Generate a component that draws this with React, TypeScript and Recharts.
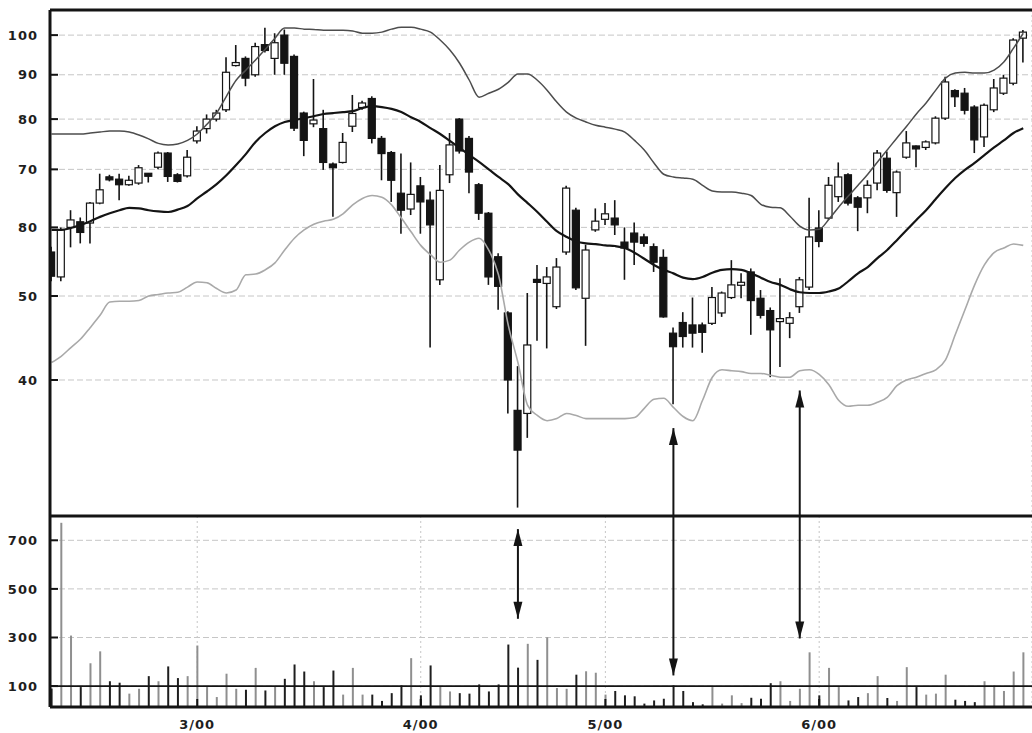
import React from "react";
import {
  ComposedChart,
  Bar,
  Line,
  XAxis,
  YAxis,
  CartesianGrid,
  ReferenceLine,
  Cell,
} from "recharts";

// trading days, 0 = early Feb 2000 ... 100 = end of June 2000
const monthTicks = [15, 38, 57, 79];
const monthLabels = ["3/00", "4/00", "5/00", "6/00"];

const priceTicks = [40, 50, 60, 70, 80, 90, 100];
const priceTickLabels = ["40", "50", "80", "70", "80", "90", "100"];
const volumeTicks = [100, 300, 500, 700];

const opens = [
  56.2, 52.6, 60.0, 60.9, 60.7, 64.0, 68.6, 68.2, 67.2, 67.5,
  69.2, 70.4, 73.1, 69.0, 68.8, 75.5, 78.0, 80.0, 82.0, 92.4,
  94.0, 90.0, 97.5, 94.0, 100.0, 94.5, 81.3, 79.0, 78.0, 71.0,
  71.3, 78.5, 82.5, 84.5, 76.0, 73.2, 65.7, 63.0, 67.0, 64.5,
  52.2, 69.0, 80.0, 76.0, 67.2, 62.3, 55.5, 47.8, 36.9, 36.6,
  52.2, 51.7, 48.6, 56.2, 62.8, 49.7, 59.6, 61.3, 61.5, 57.7,
  59.1, 58.5, 57.0, 55.4, 45.3, 46.6, 46.3, 46.3, 46.5, 47.8,
  49.8, 51.5, 53.3, 49.7, 48.1, 46.8, 46.5, 48.6, 51.2, 59.9,
  61.5, 65.1, 69.0, 64.9, 64.9, 67.5, 72.1, 65.8, 72.3, 74.4,
  74.2, 75.1, 80.2, 86.3, 85.7, 82.6, 76.3, 82.0, 85.7, 88.0,
  99.2,
];
const highs = [
  57.0, 60.0, 62.8, 61.6, 64.2, 69.2, 69.0, 69.2, 68.8, 70.8,
  69.3, 73.4, 73.3, 69.3, 73.7, 78.5, 81.0, 82.0, 94.3, 97.4,
  94.5, 98.0, 102.0, 100.5, 101.5, 95.0, 81.6, 89.0, 82.0, 71.3,
  77.1, 85.3, 84.0, 85.0, 76.5, 73.5, 73.0, 71.3, 68.6, 66.0,
  70.8, 77.1, 80.2, 76.5, 67.5, 62.5, 56.0, 48.0, 41.5, 50.4,
  54.3, 54.0, 55.3, 67.0, 63.2, 57.3, 63.1, 64.0, 64.5, 60.0,
  60.8, 59.0, 57.5, 56.6, 46.0, 47.9, 49.8, 46.6, 51.2, 50.6,
  55.0, 53.1, 53.8, 50.8, 48.5, 52.4, 47.9, 52.6, 64.9, 62.8,
  68.6, 71.3, 69.3, 65.2, 68.0, 73.7, 73.4, 69.8, 77.5, 74.6,
  75.6, 80.6, 89.5, 86.6, 86.9, 83.0, 83.4, 89.0, 90.0, 99.2,
  101.4,
];
const lows = [
  52.0, 52.0, 56.9, 57.5, 57.5, 63.8, 67.8, 64.5, 67.0, 67.2,
  67.6, 70.0, 67.7, 67.6, 68.5, 75.0, 77.0, 79.5, 81.5, 92.0,
  87.3, 89.5, 95.5, 90.0, 90.0, 77.5, 72.5, 78.3, 69.9, 61.7,
  71.1, 77.3, 82.0, 75.0, 68.0, 64.2, 59.0, 62.0, 59.0, 43.6,
  51.5, 67.5, 73.0, 65.7, 61.2, 51.5, 48.2, 36.6, 28.5, 34.3,
  44.4, 43.5, 48.3, 55.8, 50.8, 43.8, 59.3, 60.4, 58.8, 52.2,
  54.3, 57.0, 53.3, 47.2, 37.5, 43.6, 43.6, 43.0, 46.3, 47.3,
  49.6, 49.7, 45.1, 47.1, 40.3, 41.4, 44.7, 47.8, 50.8, 56.9,
  61.2, 64.2, 63.6, 59.4, 62.3, 66.2, 65.8, 61.7, 72.0, 70.4,
  73.7, 74.8, 79.8, 82.6, 81.0, 73.1, 74.3, 81.5, 85.3, 87.5,
  93.0,
];
const closes = [
  52.7, 59.6, 61.2, 59.2, 64.0, 66.3, 68.1, 67.2, 68.0, 70.3,
  68.8, 73.1, 68.7, 67.8, 72.3, 77.5, 80.0, 81.3, 90.6, 92.8,
  89.2, 97.0, 96.0, 98.0, 92.8, 78.1, 75.6, 79.8, 71.3, 70.3,
  75.2, 81.2, 83.5, 76.0, 73.0, 68.0, 62.8, 65.5, 64.2, 60.4,
  66.2, 74.7, 73.5, 69.5, 62.3, 52.6, 51.3, 40.0, 33.2, 43.9,
  51.9, 52.6, 54.0, 66.6, 51.1, 56.5, 61.0, 62.2, 60.4, 56.8,
  57.7, 57.5, 54.7, 47.3, 43.7, 44.9, 45.3, 45.4, 49.8, 50.4,
  51.5, 51.8, 49.4, 47.5, 45.7, 47.0, 47.2, 52.2, 58.5, 57.8,
  67.1, 68.6, 64.0, 63.3, 67.1, 73.1, 66.2, 69.5, 75.1, 74.0,
  75.3, 80.2, 88.3, 84.9, 81.9, 75.7, 83.0, 86.9, 89.2, 98.7,
  100.8,
];

const upperBand = [
  76.9, 76.9, 76.9, 76.9, 77.1, 77.3, 77.5, 77.5, 77.3, 76.7,
  75.9, 75.0, 74.7, 74.9, 75.6, 76.9, 78.9, 81.3, 85.0, 88.7,
  91.1, 93.6, 96.3, 99.2, 101.9, 101.9, 101.6, 101.5, 101.3, 101.3,
  101.3, 101.1, 100.5, 100.5, 100.8, 101.6, 102.1, 102.1, 101.6, 100.8,
  98.7, 96.1, 92.8, 88.7, 84.8, 85.7, 86.6, 88.2, 90.2, 90.2,
  88.7, 86.4, 83.7, 81.5, 80.2, 79.4, 78.7, 78.3, 77.9, 77.3,
  75.6, 73.7, 71.2, 69.1, 68.6, 68.4, 68.2, 67.1, 66.1, 65.9,
  65.9, 65.7, 65.3, 63.8, 63.3, 63.2, 61.8, 60.2, 59.6, 59.7,
  61.3, 63.3, 65.2, 67.1, 69.1, 71.4, 73.7, 76.1, 78.5, 81.1,
  83.5, 86.4, 89.2, 90.4, 90.6, 90.4, 90.4, 91.1, 93.1, 96.6,
  100.5,
];
const middleBand = [
  59.6, 59.6, 59.9, 60.4, 61.0, 61.7, 62.3, 62.8, 63.2, 63.1,
  62.8, 62.6, 62.5, 62.9, 63.5, 64.8, 66.0, 67.3, 68.9, 70.8,
  72.9, 75.3, 77.1, 78.5, 79.4, 79.8, 80.2, 80.6, 81.1, 81.3,
  81.5, 81.7, 82.4, 82.8, 82.6, 82.2, 81.5, 80.4, 79.4, 78.1,
  76.9, 75.5, 74.1, 72.7, 71.4, 70.0, 68.6, 67.3, 65.5, 64.0,
  62.5, 60.9, 59.4, 58.5, 57.8, 57.5, 57.4, 57.2, 57.1, 56.8,
  56.1, 55.2, 54.3, 53.6, 53.1, 52.5, 52.3, 52.6, 53.2, 53.6,
  53.7, 53.6, 53.1, 52.5, 51.9, 51.5, 50.9, 50.5, 50.4, 50.4,
  50.6, 51.0, 52.0, 53.1, 54.0, 55.3, 56.5, 58.0, 59.6, 61.2,
  62.8, 64.7, 66.6, 68.4, 69.9, 71.2, 72.7, 74.2, 75.6, 77.1,
  78.1,
];
const lowerBand = [
  41.9, 42.6, 43.6, 44.6, 46.0, 47.5, 49.2, 49.3, 49.3, 49.4,
  50.0, 50.2, 50.4, 50.5, 51.2, 51.9, 51.8, 51.0, 50.4, 50.8,
  52.9, 53.0, 53.6, 54.6, 56.5, 58.3, 59.6, 60.5, 61.0, 61.3,
  62.2, 63.7, 64.8, 65.3, 65.0, 63.7, 61.5, 59.3, 57.2, 55.8,
  54.7, 55.0, 56.5, 57.7, 58.3, 56.5, 52.9, 46.3, 41.9, 37.4,
  36.4, 35.9, 36.1, 36.6, 36.4, 36.1, 36.1, 36.1, 36.1, 36.1,
  36.2, 37.1, 38.0, 38.1, 37.2, 36.3, 35.9, 37.9, 40.3, 41.1,
  41.0, 40.9, 40.7, 40.7, 40.5, 40.3, 40.3, 41.0, 41.1, 40.6,
  39.5, 37.9, 37.3, 37.4, 37.4, 37.7, 38.2, 39.4, 40.0, 40.3,
  40.7, 41.1, 42.2, 45.1, 48.2, 51.5, 54.3, 56.1, 56.8, 57.4,
  57.2,
];

const volumes = [
  90, 772, 308, 96, 194, 243, 120, 114, 69, 89,
  141, 120, 181, 133, 141, 267, 96, 55, 151, 89,
  85, 175, 82, 99, 130, 189, 160, 120, 96, 164,
  65, 175, 65, 65, 39, 71, 103, 215, 62, 185,
  100, 78, 71, 69, 107, 78, 107, 271, 176, 274,
  208, 301, 92, 89, 147, 161, 155, 65, 80, 62,
  58, 28, 41, 48, 103, 80, 34, 25, 96, 28,
  62, 30, 52, 48, 112, 120, 39, 89, 239, 62,
  175, 96, 41, 55, 71, 141, 51, 39, 178, 96,
  65, 69, 147, 44, 39, 34, 120, 103, 80, 160,
  239,
];

// arrows marking the lows against volume
const priceArrowDays = [64, 77];
const priceArrowTips = [35.2, 38.9];
const volArrowDays = [48, 64, 77];
const volArrowFrom = [746, 800, 800];
const volArrowTo = [377, 144, 296];
const volArrowBoth = [true, false, false];

const DAY_DOMAIN: [number, number] = [-0.15, 100.9];
const PRICE_DOMAIN: [number, number] = [27.87, 106.9];
const VOL_DOMAIN: [number, number] = [14, 800];

const rows = opens.map((open, i) => ({
  i,
  open,
  high: highs[i],
  low: lows[i],
  close: closes[i],
  range: [lows[i], highs[i]],
  upper: upperBand[i],
  middle: middleBand[i],
  lower: lowerBand[i],
  vol: volumes[i],
}));

const INK = "#141414";
const GRID = "#c6c6c6";
const tickFont = {
  fontSize: 13,
  fontFamily: "DejaVu Sans, Arial, sans-serif",
  fontWeight: 700,
  fill: "#1e1e1e",
  letterSpacing: 1,
};

function Candle(props: any) {
  const { x, y, width, height, payload } = props;
  if (!payload || x == null || y == null) return null;
  const top = Math.min(y, y + height);
  const h = Math.abs(height);
  const lh = Math.log(payload.high);
  const span = lh - Math.log(payload.low) || 1;
  const yOf = (v: number) => top + ((lh - Math.log(v)) / span) * h;
  const cx = x + width / 2;
  const yo = yOf(payload.open);
  const yc = yOf(payload.close);
  const down = payload.close < payload.open;
  const bh = Math.max(Math.abs(yo - yc), 3);
  const bt = Math.min(yo, yc) - (bh - Math.abs(yo - yc)) / 2;
  return (
    <g>
      <line x1={cx} x2={cx} y1={top} y2={top + h} stroke={INK} strokeWidth={1.6} />
      <rect
        x={cx - width / 2}
        y={bt}
        width={width}
        height={bh}
        fill={down ? INK : "#fff"}
        stroke={INK}
        strokeWidth={1.2}
      />
    </g>
  );
}

function headPoints(tx: number, ty: number, fx: number, fy: number) {
  const len = 17;
  const half = 4.5;
  const dx = tx - fx;
  const dy = ty - fy;
  const d = Math.hypot(dx, dy) || 1;
  const ux = dx / d;
  const uy = dy / d;
  const bx = tx - ux * len;
  const by = ty - uy * len;
  return `${tx},${ty} ${bx - uy * half},${by + ux * half} ${bx + uy * half},${by - ux * half}`;
}

const makeArrow = (startHead: boolean, endHead: boolean) => (p: any) => {
  const { x1, y1, x2, y2 } = p;
  return (
    <g>
      <line x1={x1} y1={y1} x2={x2} y2={y2} stroke={INK} strokeWidth={2} />
      {startHead && <polygon points={headPoints(x1, y1, x2, y2)} fill={INK} />}
      {endHead && <polygon points={headPoints(x2, y2, x1, y1)} fill={INK} />}
    </g>
  );
};

const frameLine = { stroke: INK, strokeWidth: 3 };
const frameTick = { stroke: INK, strokeWidth: 2 };

export default function App() {
  return (
    <div
      style={{
        position: "absolute",
        left: 0,
        top: 0,
        width: 1032,
        height: 733,
        background: "#fff",
        overflow: "hidden",
      }}
    >
      <div style={{ position: "absolute", left: 0, top: 0 }}>
        <ComposedChart
          width={1032}
          height={517}
          data={rows}
          margin={{ top: 9, right: 0, bottom: 0, left: 0 }}
        >
          <XAxis
            xAxisId="t"
            dataKey="i"
            type="number"
            orientation="top"
            domain={DAY_DOMAIN}
            ticks={monthTicks}
            allowDataOverflow
            height={1}
            tick={false}
            tickSize={-10}
            axisLine={frameLine}
            tickLine={frameTick}
          />
          <XAxis
            xAxisId="b"
            dataKey="i"
            type="number"
            domain={DAY_DOMAIN}
            ticks={monthTicks}
            allowDataOverflow
            height={1}
            tick={false}
            tickSize={-10}
            axisLine={frameLine}
            tickLine={frameTick}
          />
          <YAxis
            scale="log"
            type="number"
            domain={PRICE_DOMAIN}
            allowDataOverflow
            ticks={priceTicks}
            width={50}
            tickSize={-8}
            tickMargin={20}
            tickFormatter={(v: number) => priceTickLabels[priceTicks.indexOf(v)] ?? String(v)}
            tick={tickFont}
            axisLine={frameLine}
            tickLine={frameTick}
          />
          <CartesianGrid xAxisId="b" vertical={false} stroke={GRID} strokeDasharray="6 3" />
          <CartesianGrid xAxisId="b" horizontal={false} stroke={GRID} strokeDasharray="2 3" />
          <Line
            xAxisId="b"
            dataKey="upper"
            type="monotone"
            dot={false}
            stroke="#4d4d4d"
            strokeWidth={1.5}
            isAnimationActive={false}
          />
          <Line
            xAxisId="b"
            dataKey="lower"
            type="monotone"
            dot={false}
            stroke="#a9a9a9"
            strokeWidth={1.6}
            isAnimationActive={false}
          />
          <Line
            xAxisId="b"
            dataKey="middle"
            type="monotone"
            dot={false}
            stroke={INK}
            strokeWidth={2.2}
            isAnimationActive={false}
          />
          <Bar
            xAxisId="b"
            dataKey="range"
            barSize={7}
            shape={Candle}
            isAnimationActive={false}
          />
          {priceArrowDays.map((d, k) => (
            <ReferenceLine
              key={`pa${d}`}
              xAxisId="b"
              ifOverflow="visible"
              segment={[
                { x: d, y: priceArrowTips[k] },
                { x: d, y: PRICE_DOMAIN[0] },
              ]}
              shape={makeArrow(true, false)}
            />
          ))}
        </ComposedChart>
      </div>

      <div style={{ position: "absolute", left: 0, top: 515 }}>
        <ComposedChart
          width={1032}
          height={218}
          data={rows}
          margin={{ top: 0, right: 0, bottom: 0, left: 0 }}
        >
          <XAxis
            xAxisId="t"
            dataKey="i"
            type="number"
            orientation="top"
            domain={DAY_DOMAIN}
            ticks={monthTicks}
            allowDataOverflow
            height={1}
            tick={false}
            tickSize={-10}
            axisLine={frameLine}
            tickLine={frameTick}
          />
          <XAxis
            xAxisId="b"
            dataKey="i"
            type="number"
            domain={DAY_DOMAIN}
            ticks={monthTicks}
            allowDataOverflow
            height={26}
            tickSize={-8}
            tickMargin={21}
            tickFormatter={(v: number) => monthLabels[monthTicks.indexOf(v)] ?? ""}
            tick={tickFont}
            axisLine={frameLine}
            tickLine={frameTick}
          />
          <YAxis
            type="number"
            domain={VOL_DOMAIN}
            allowDataOverflow
            ticks={volumeTicks}
            width={50}
            tickSize={-8}
            tickMargin={20}
            tick={tickFont}
            axisLine={frameLine}
            tickLine={frameTick}
          />
          <CartesianGrid xAxisId="b" vertical={false} stroke={GRID} strokeDasharray="6 3" />
          <CartesianGrid xAxisId="b" horizontal={false} stroke={GRID} strokeDasharray="2 3" />
          <Bar xAxisId="b" dataKey="vol" barSize={2} isAnimationActive={false}>
            {rows.map((r) => (
              <Cell key={r.i} fill={r.close < r.open ? "#1e1e1e" : "#8f8f8f"} />
            ))}
          </Bar>
          <ReferenceLine xAxisId="b" y={100} stroke={INK} strokeWidth={1.6} />
          {volArrowDays.map((d, k) => (
            <ReferenceLine
              key={`va${d}`}
              xAxisId="b"
              ifOverflow="visible"
              segment={[
                { x: d, y: volArrowFrom[k] },
                { x: d, y: volArrowTo[k] },
              ]}
              shape={makeArrow(volArrowBoth[k], true)}
            />
          ))}
        </ComposedChart>
      </div>
    </div>
  );
}
